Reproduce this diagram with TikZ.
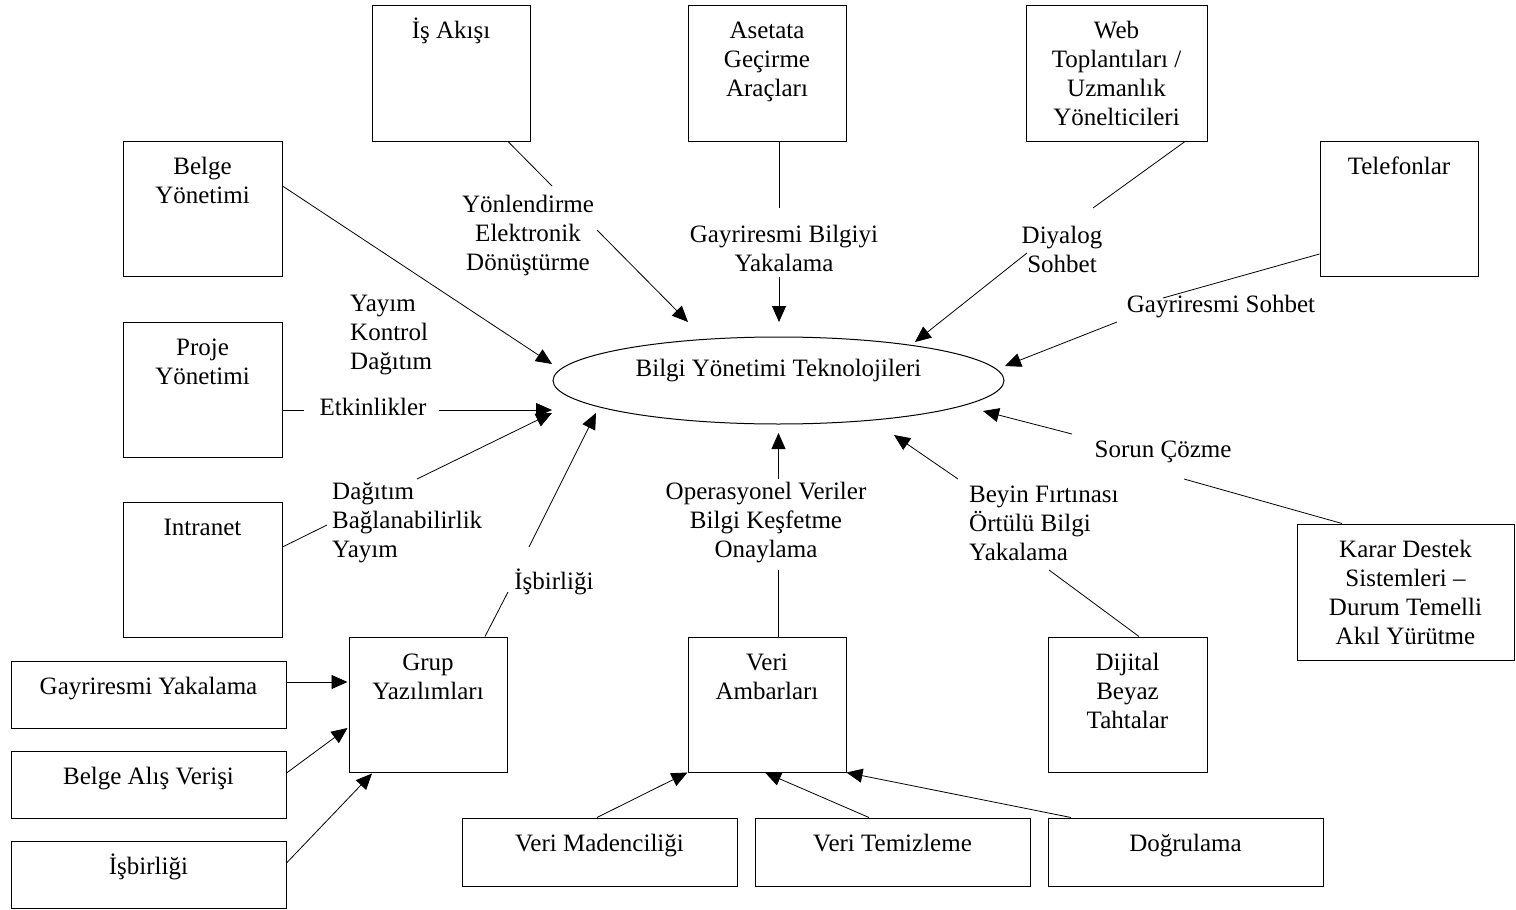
\documentclass[tikz,border=0pt]{standalone}
\usepackage{fontspec}
\setmainfont{Liberation Serif}
\usetikzlibrary{arrows.meta,calc,shapes.geometric}

% text set 25pt on a 29pt baseline
\newcommand{\dgfont}{\fontsize{25pt}{29pt}\selectfont}
% box contents: fixed-size parbox with the text hung from its top edge
\newcommand{\boxtxt}[3]{\parbox[c][#2pt][t]{#1pt}{\centering\rule{0pt}{33pt}#3}}

\tikzset{
  box/.style={draw, line width=1pt, inner sep=0pt, font=\dgfont},
  hub/.style={draw, ellipse, line width=1pt, inner sep=0pt,
              minimum width=451pt, minimum height=87pt, font=\dgfont},
  lbl/.style={inner sep=0pt, font=\dgfont, align=center},
  lbll/.style={inner sep=0pt, font=\dgfont, align=left, anchor=west},
  ln/.style={line width=0.8pt},
  arr/.style={ln, -{Triangle[length=16pt,width=14pt]}}
}

\begin{document}
\begin{tikzpicture}[x=1pt,y=-1pt]
\fill[white] (0,0) rectangle (1516,910);
\useasboundingbox (0,0) rectangle (1516,910);

% central ellipse
\node[hub] (kms) at (778.5,380.5)
  {\raisebox{10pt}[\height][\depth]{Bilgi Yönetimi Teknolojileri}};

% top row
\node[box] (isakisi) at (451,73)    {\boxtxt{158}{136}{İş Akışı}};
\node[box] (asetata) at (767,73)    {\boxtxt{158}{136}{Asetata\\Geçirme\\Araçları}};
\node[box] (web)     at (1116.5,73) {\boxtxt{181}{136}{Web\\Toplantıları /\\Uzmanlık\\Yönelticileri}};

% left column
\node[box] (belge)    at (202.5,208.5) {\boxtxt{159}{135}{Belge\\Yönetimi}};
\node[box] (proje)    at (202.5,389.5) {\boxtxt{159}{135}{Proje\\Yönetimi}};
\node[box] (intranet) at (202.5,569.5) {\boxtxt{159}{135}{Intranet}};

% right side
\node[box] (tel)   at (1399,208.5) {\boxtxt{158}{135}{Telefonlar}};
\node[box] (karar) at (1405.5,592) {\boxtxt{217}{136}{Karar Destek\\Sistemleri –\\Durum Temelli\\Akıl Yürütme}};

% lower row
\node[box] (grup)    at (428,704.5)    {\boxtxt{158}{135}{Grup\\Yazılımları}};
\node[box] (vambar)  at (767,704.5)    {\boxtxt{158}{135}{Veri\\Ambarları}};
\node[box] (dijital) at (1127.5,704.5) {\boxtxt{159}{135}{Dijital\\Beyaz\\Tahtalar}};

% feeders of Grup Yazılımları
\node[box] (gyak) at (148.5,694.5) {\boxtxt{275}{67}{Gayriresmi Yakalama}};
\node[box] (bav)  at (148.5,784.5) {\boxtxt{275}{67}{Belge Alış Verişi}};
\node[box] (isb)  at (148.5,874.5) {\boxtxt{275}{67}{İşbirliği}};

% feeders of Veri Ambarları
\node[box] (vmad) at (599.5,852)  {\boxtxt{275}{68}{Veri Madenciliği}};
\node[box] (vtem) at (892.5,852)  {\boxtxt{275}{68}{Veri Temizleme}};
\node[box] (dog)  at (1185.5,852) {\boxtxt{275}{68}{Doğrulama}};

% connector labels
\node[lbl]  (lroute)   at (528,235)  {Yönlendirme\\Elektronik\\Dönüştürme};
\node[lbl]  (lbilgi)   at (784,248)  {Gayriresmi Bilgiyi\\Yakalama};
\node[lbl]  (ldiyalog) at (1062,249) {Diyalog\\Sohbet};
\node[lbl]  (lgsohbet) at (1221,307) {Gayriresmi Sohbet};
\node[lbll] (lyayim)   at (350,335)  {Yayım\\Kontrol\\Dağıtım};
\node[lbl]  (letk)     at (373,407)  {Etkinlikler};
\node[lbll] (ldagitim) at (332,523)  {Dağıtım\\Bağlanabilirlik\\Yayım};
\node[lbl]  (lisb)     at (554,582)  {İşbirliği};
\node[lbl]  (loper)    at (766,523)  {Operasyonel Veriler\\Bilgi Keşfetme\\Onaylama};
\node[lbll] (lbeyin)   at (969,523)  {Beyin Fırtınası\\Örtülü Bilgi\\Yakalama};
\node[lbl]  (lsorun)   at (1163,452) {Sorun Çözme};

% connectors into the ellipse, broken around their labels
\draw[ln]  ($(isakisi.south)+(57,0)$) -- ($(lroute)+(24,-49)$);
\draw[arr] ($(lroute)+(69,-5)$) -- ($(kms.center)+(-90.5,-58.5)$);

\draw[ln]  ($(asetata.south)+(12,0)$) -- ($(lbilgi)+(-5,-40)$);
\draw[arr] ($(lbilgi)+(-5,29)$) -- ($(kms.center)+(0.5,-58.5)$);

\draw[ln]  ($(web.south)+(68.5,0)$) -- ($(ldiyalog)+(31,-41)$);
\draw[arr] ($(ldiyalog)+(-35,4)$) -- ($(kms.center)+(136.5,-38.5)$);

\draw[ln]  ($(tel.west)+(0,45.5)$) -- ($(lgsohbet)+(-58,-9)$);
\draw[arr] ($(lgsohbet)+(-104,15)$) -- ($(kms.center)+(226.5,-14.5)$);

\draw[arr] ($(belge.east)+(0,-22.5)$) -- ($(kms.center)+(-226.5,-16.5)$);

\draw[ln]  ($(proje.east)+(0,20.5)$) -- ($(letk)+(-69,3)$);
\draw[arr] ($(letk)+(66,3)$) -- ($(kms.center)+(-226.5,29.5)$);

\draw[ln]  ($(intranet.east)+(0,-22.5)$) -- ($(ldagitim.west)+(-5,2)$);
\draw[arr] ($(ldagitim.west)+(85,-44)$) -- ($(kms.center)+(-226.5,32.5)$);

\draw[ln]  ($(grup.north)+(57,0)$) -- ($(lisb)+(-46,10)$);
\draw[arr] ($(lisb)+(-25,-35)$) -- ($(kms.center)+(-182.5,32.5)$);

\draw[ln]  ($(vambar.north)+(11.5,0)$) -- ($(loper)+(12.5,47)$);
\draw[arr] ($(loper)+(12.5,-44)$) -- ($(kms.center)+(0,52.5)$);

\draw[ln]  ($(dijital.north)+(11.5,0)$) -- ($(lbeyin.west)+(80,47)$);
\draw[arr] ($(lbeyin.west)+(-11,-44)$) -- ($(kms.center)+(115.5,54.5)$);

\draw[ln]  ($(karar.north)+(-63.5,0)$) -- ($(lsorun)+(21,27)$);
\draw[arr] ($(lsorun)+(-91,-18)$) -- ($(kms.center)+(204.5,30.5)$);

% connectors into Grup Yazılımları
\draw[arr] ($(gyak.east)+(0,-12.5)$) -- ($(grup.west)+(-1,-22.5)$);
\draw[arr] ($(bav.east)+(0,-11.5)$) -- ($(grup.west)+(-1,23.5)$);
\draw[arr] ($(isb.east)+(0,-11.5)$) -- ($(grup.south)+(-56,1)$);

% connectors into Veri Ambarları
\draw[arr] ($(vmad.north)+(-2.5,0)$) -- (vambar.south west);
\draw[arr] ($(vtem.north)+(-23.5,0)$) -- ($(vambar.south)+(-2,0)$);
\draw[arr] ($(dog.north)+(-114.5,0)$) -- (vambar.south east);
\end{tikzpicture}
\end{document}
